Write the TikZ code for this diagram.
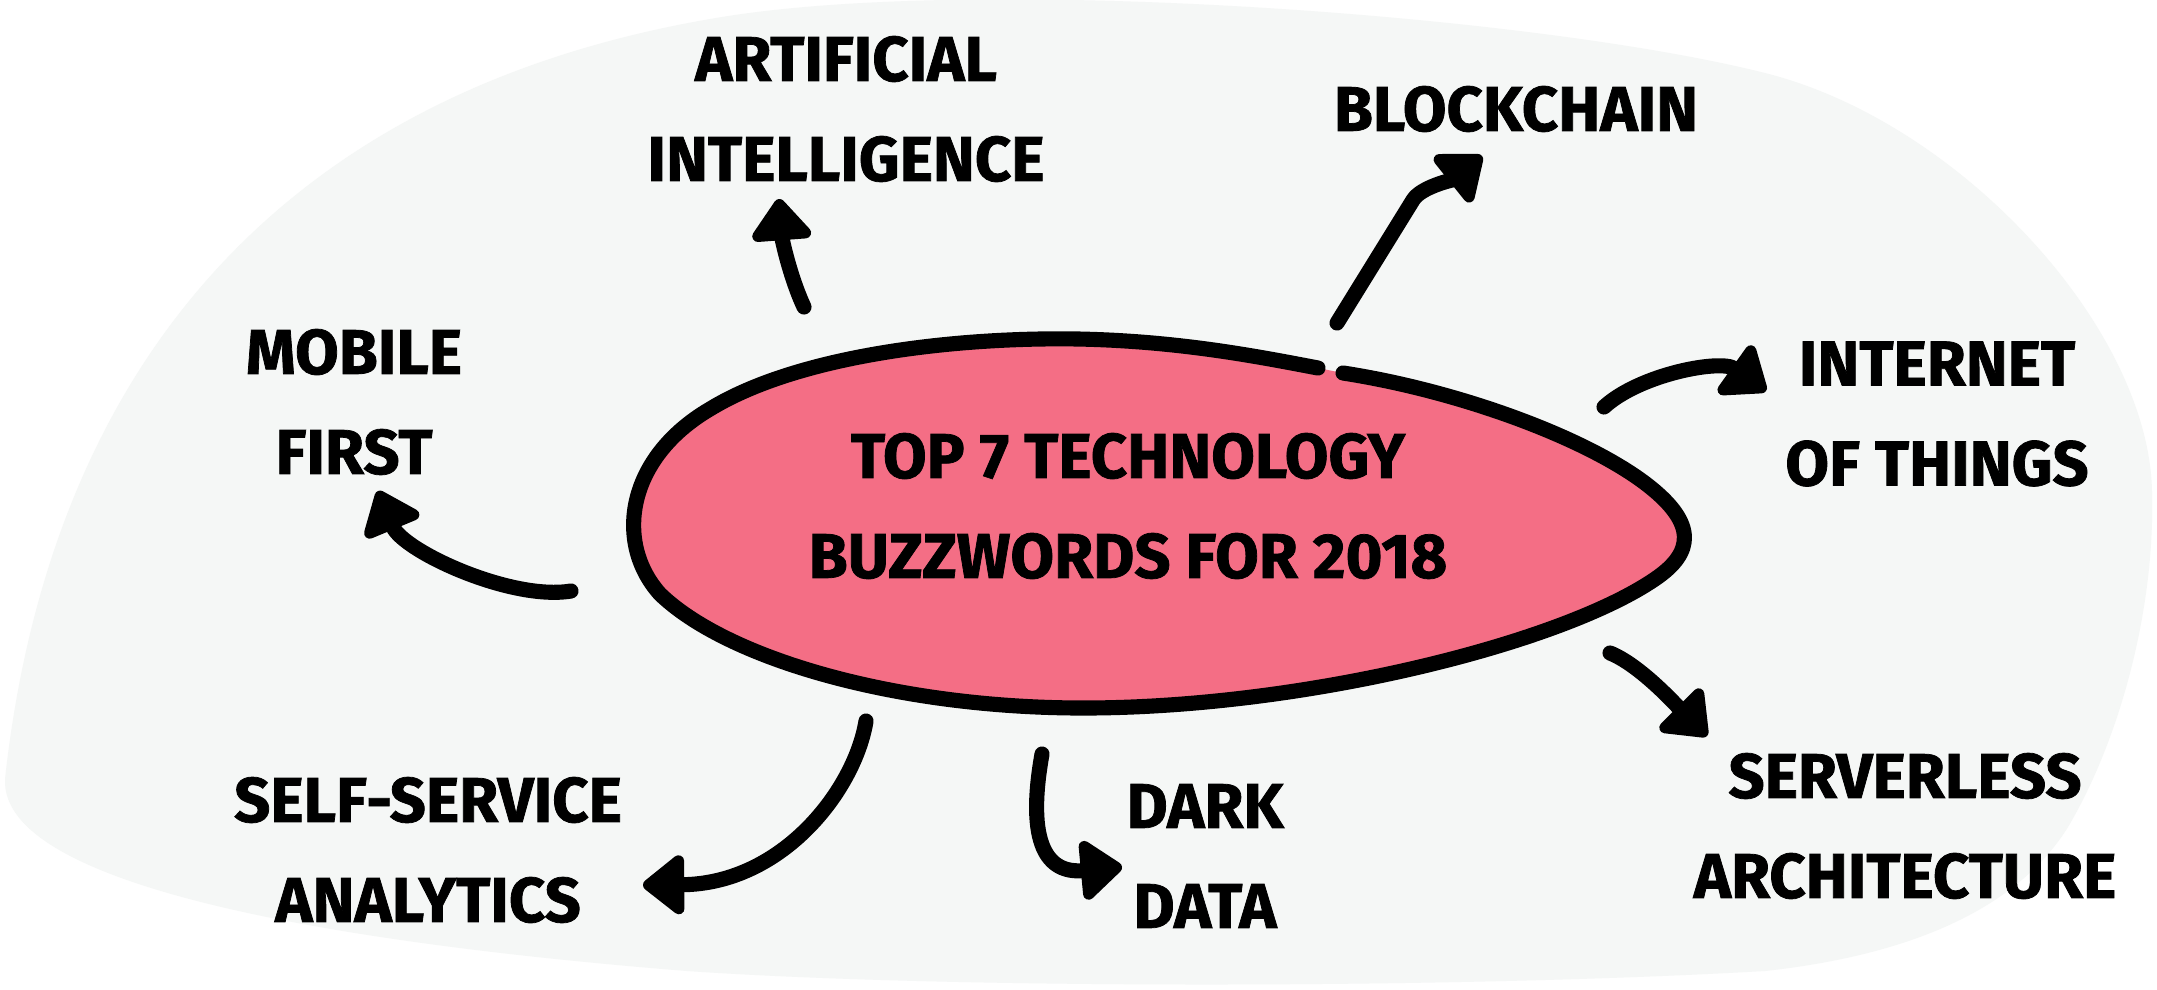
\documentclass[tikz,border=0pt]{standalone}
\usepackage{fontspec}
\setmainfont{Fira Sans}[BoldFeatures={FakeBold=1.2}]
\usepackage{tikz}
\usetikzlibrary{arrows.meta}

\definecolor{blobgray}{HTML}{F5F7F6}
\definecolor{eggpink}{HTML}{F46E85}

\begin{document}
\begin{tikzpicture}[
    buzzword/.style={font=\bfseries\fontsize{18}{28.45}\selectfont, align=center, inner sep=0pt},
    pointer/.style={line width=4.3pt, line cap=round, line join=round,
        -{Triangle[round,length=0.45cm,width=0.68cm]}}
]

% Canvas
\fill[white] (0,0) rectangle (21.57,9.89);
\useasboundingbox (0,0) rectangle (21.57,9.89);

% Background blob
\fill[blobgray] (0.05,2.10) .. controls (0.50,6.20) and (2.80,9.00) .. (7.22,9.72)
    .. controls (9.80,10.14) and (15.30,9.75) .. (17.65,9.16)
    .. controls (19.60,8.67) and (21.50,6.60) .. (21.52,4.96)
    .. controls (21.55,3.80) and (21.20,2.50) .. (20.68,1.62)
    .. controls (20.20,0.85) and (19.20,0.35) .. (17.65,0.18)
    .. controls (14.50,0.00) and (9.50,0.00) .. (6.87,0.18)
    .. controls (3.50,0.45) and (0.00,1.00) .. (0.05,2.10) -- cycle;

% Egg
\fill[eggpink] (13.43,6.16) .. controls (14.60,5.98) and (15.90,5.50) .. (16.50,5.02)
    .. controls (16.95,4.66) and (16.95,4.37) .. (16.55,4.10)
    .. controls (15.60,3.45) and (13.00,2.80) .. (10.78,2.81)
    .. controls (8.90,2.82) and (7.25,3.32) .. (6.60,3.95)
    .. controls (6.15,4.45) and (6.25,5.30) .. (7.10,5.80)
    .. controls (8.00,6.35) and (9.60,6.52) .. (10.78,6.50)
    .. controls (11.80,6.48) and (12.60,6.32) .. (13.18,6.21) -- cycle;
\draw[line width=4.3pt, line cap=round] (13.43,6.16) .. controls (14.60,5.98) and (15.90,5.50) .. (16.50,5.02)
    .. controls (16.95,4.66) and (16.95,4.37) .. (16.55,4.10)
    .. controls (15.60,3.45) and (13.00,2.80) .. (10.78,2.81)
    .. controls (8.90,2.82) and (7.25,3.32) .. (6.60,3.95)
    .. controls (6.15,4.45) and (6.25,5.30) .. (7.10,5.80)
    .. controls (8.00,6.35) and (9.60,6.52) .. (10.78,6.50)
    .. controls (11.80,6.48) and (12.60,6.32) .. (13.18,6.21);

% Words
\node[buzzword] (topic) at (11.28,4.83) {TOP 7 TECHNOLOGY\\BUZZWORDS FOR 2018};
\node[buzzword] (ai) at (8.46,8.80) {ARTIFICIAL\\INTELLIGENCE};
\node[buzzword] (chain) at (15.16,8.80) {BLOCKCHAIN};
\node[buzzword] (mobile) at (3.54,5.87) {MOBILE\\FIRST};
\node[buzzword] (iot) at (19.37,5.75) {INTERNET\\OF THINGS};
\node[buzzword] (selfservice) at (4.28,1.39) {SELF-SERVICE\\ANALYTICS};
\node[buzzword] (darkdata) at (12.05,1.33) {DARK\\DATA};
\node[buzzword] (serverless) at (19.05,1.63) {SERVERLESS\\ARCHITECTURE};

% Arrow ends
\coordinate (ai-tail) at (8.04,6.82);
\coordinate (ai-tip) at (7.79,7.90);
\coordinate (chain-tail) at (13.37,6.66);
\coordinate (chain-bend) at (14.13,7.89);
\coordinate (chain-tip) at (14.82,8.33);
\coordinate (mobile-tail) at (5.71,3.98);
\coordinate (mobile-tip) at (3.78,4.98);
\coordinate (iot-tail) at (16.04,5.82);
\coordinate (iot-tip) at (17.66,5.98);
\coordinate (serverless-tail) at (16.10,3.36);
\coordinate (serverless-tip) at (17.07,2.53);
\coordinate (selfservice-tail) at (8.66,2.68);
\coordinate (selfservice-tip) at (6.43,1.04);
\coordinate (darkdata-tail) at (10.42,2.35);
\coordinate (darkdata-tip) at (11.22,1.22);

% Arrows
\draw[pointer] (ai-tail) .. controls +(-0.14,0.30) and +(0.03,-0.40) .. (ai-tip);
\draw[pointer] (chain-tail) -- (chain-bend) .. controls +(0.08,0.13) and +(-0.30,-0.24) .. (chain-tip);
\draw[pointer] (mobile-tail) .. controls +(-0.60,-0.10) and +(0.25,-0.60) .. (mobile-tip);
\draw[pointer] (iot-tail) .. controls +(0.36,0.33) and +(-0.45,0.32) .. (iot-tip);
\draw[pointer] (serverless-tail) .. controls +(0.30,-0.12) and +(-0.30,0.30) .. (serverless-tip);
\draw[pointer] (selfservice-tail) .. controls +(-0.11,-0.68) and +(1.40,0.01) .. (selfservice-tip);
\draw[pointer] (darkdata-tail) .. controls +(-0.16,-0.90) and +(-0.75,-0.07) .. (darkdata-tip);

\end{tikzpicture}
\end{document}
